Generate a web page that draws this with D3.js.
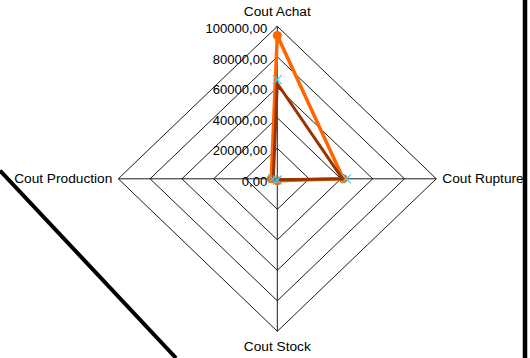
<!DOCTYPE html>
<html>
<head>
<meta charset="utf-8">
<script src="https://cdn.jsdelivr.net/npm/d3@7"></script>
<style>
  body { margin: 0; background: #fff; }
  svg { display: block; font-family: "Liberation Sans", Arial, sans-serif; }
  .axis-label { font-size: 13.7px; fill: #000; }
  .tick-label { font-size: 13.1px; fill: #000; }
</style>
</head>
<body>
<div id="radar"></div>
<script>
// Data
const axes = ["Cout Achat", "Cout Rupture", "Cout Stock", "Cout Production"];
const gridValues = [20000, 40000, 60000, 80000, 100000];
const tickValues = [0, 20000, 40000, 60000, 80000, 100000];
const serieOrange = [94000, 41500, 1300, 3800];
const serieBrown = [62500, 41000, 600, 2500];
const serieCyan = [65000, 43500, 800, 2800];

const width = 530, height = 358;
const cx = 277.3, cy = 178.8;

const svg = d3.select("#radar")
  .append("svg")
  .attr("width", width)
  .attr("height", height);

// Horizontal and vertical radius differ slightly
const rX = d3.scaleLinear().domain([0, 100000]).range([0, 159]);
const rY = d3.scaleLinear().domain([0, 100000]).range([0, 152.5]);

// axis directions: top, right, bottom, left
const dirs = [[0, -1], [1, 0], [0, 1], [-1, 0]];
const pt = (v, i) => [cx + dirs[i][0] * rX(v), cy + dirs[i][1] * rY(v)];

const chart = svg.append("g");

// Grid rings
chart.selectAll("polygon.ring")
  .data(gridValues)
  .join("polygon")
    .attr("class", "ring")
    .attr("points", v => axes.map((a, i) => pt(v, i).join(",")).join(" "))
    .attr("fill", "none")
    .attr("stroke", "#000")
    .attr("stroke-width", 0.9);

// Spokes
chart.selectAll("line.spoke")
  .data(axes)
  .join("line")
    .attr("class", "spoke")
    .attr("x1", cx).attr("y1", cy)
    .attr("x2", (a, i) => pt(100000, i)[0])
    .attr("y2", (a, i) => pt(100000, i)[1])
    .attr("stroke", "#000")
    .attr("stroke-width", 0.9);

// Tick labels on the top axis
const fmt = d3.formatLocale({ decimal: ",", thousands: "", grouping: [3], currency: ["", ""] }).format(".2f");
chart.selectAll("text.tick-label")
  .data(tickValues)
  .join("text")
    .attr("class", "tick-label")
    .attr("x", cx - 10)
    .attr("y", v => cy - rY(v) + 2.5)
    .attr("dy", "0.35em")
    .attr("text-anchor", "end")
    .text(v => fmt(v));

// Axis labels
const labelPos = [
  { dx: 0, dy: -10, anchor: "middle", base: "auto" },
  { dx: 6, dy: 0, anchor: "start", base: "central" },
  { dx: 0, dy: 20, anchor: "middle", base: "auto" },
  { dx: -6, dy: 0, anchor: "end", base: "central" }
];
chart.selectAll("text.axis-label")
  .data(axes)
  .join("text")
    .attr("class", "axis-label")
    .attr("x", (a, i) => pt(100000, i)[0] + labelPos[i].dx)
    .attr("y", (a, i) => pt(100000, i)[1] + labelPos[i].dy)
    .attr("text-anchor", (a, i) => labelPos[i].anchor)
    .attr("dominant-baseline", (a, i) => labelPos[i].base)
    .text(a => a);

// Series
const line = d3.line().curve(d3.curveLinearClosed);
const toPts = vals => vals.map((v, i) => pt(v, i));

chart.append("path")
  .attr("d", line(toPts(serieOrange)))
  .attr("fill", "none")
  .attr("stroke", "#FF6600")
  .attr("stroke-width", 3.5)
  .attr("stroke-linejoin", "round");

chart.selectAll("circle.orange")
  .data(toPts(serieOrange))
  .join("circle")
    .attr("class", "orange")
    .attr("cx", d => d[0]).attr("cy", d => d[1])
    .attr("r", 4.5)
    .attr("fill", "#FF6600");

chart.append("path")
  .attr("d", line(toPts(serieBrown)))
  .attr("fill", "none")
  .attr("stroke", "#993300")
  .attr("stroke-width", 3)
  .attr("stroke-linejoin", "round");

// Cyan series: X markers only
chart.selectAll("path.cyan")
  .data(toPts(serieCyan))
  .join("path")
    .attr("class", "cyan")
    .attr("d", d => `M${d[0] - 4.5},${d[1] - 4.5}L${d[0] + 4.5},${d[1] + 4.5}M${d[0] - 4.5},${d[1] + 4.5}L${d[0] + 4.5},${d[1] - 4.5}`)
    .attr("stroke", "#44CCF0")
    .attr("stroke-width", 1.2)
    .attr("fill", "none");

// Thick black frame strokes seen in the reference
svg.append("line")
  .attr("x1", 0).attr("y1", 170.5)
  .attr("x2", 176).attr("y2", 358)
  .attr("stroke", "#000")
  .attr("stroke-width", 4);

svg.append("line")
  .attr("x1", 525).attr("y1", 0)
  .attr("x2", 525).attr("y2", height)
  .attr("stroke", "#000")
  .attr("stroke-width", 4.5);
</script>
</body>
</html>
